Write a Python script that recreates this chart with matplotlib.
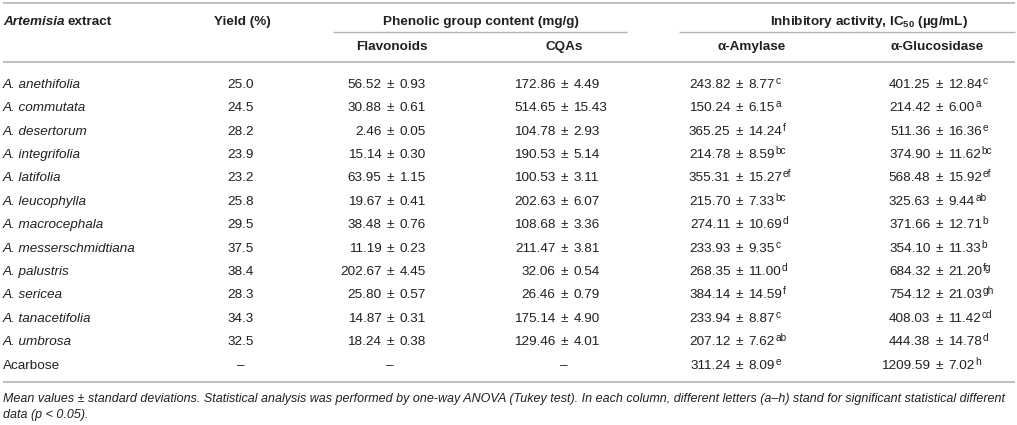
import matplotlib
matplotlib.use("Agg")
import matplotlib.pyplot as plt

# --- table data ---
species = ["A. anethifolia", "A. commutata", "A. desertorum", "A. integrifolia",
           "A. latifolia", "A. leucophylla", "A. macrocephala", "A. messerschmidtiana",
           "A. palustris", "A. sericea", "A. tanacetifolia", "A. umbrosa", "Acarbose"]
yield_pct = [25.0, 24.5, 28.2, 23.9, 23.2, 25.8, 29.5, 37.5, 38.4, 28.3, 34.3, 32.5, None]
flav_mean = [56.52, 30.88, 2.46, 15.14, 63.95, 19.67, 38.48, 11.19, 202.67, 25.80, 14.87, 18.24, None]
flav_sd = [0.93, 0.61, 0.05, 0.30, 1.15, 0.41, 0.76, 0.23, 4.45, 0.57, 0.31, 0.38, None]
cqa_mean = [172.86, 514.65, 104.78, 190.53, 100.53, 202.63, 108.68, 211.47, 32.06, 26.46, 175.14, 129.46, None]
cqa_sd = [4.49, 15.43, 2.93, 5.14, 3.11, 6.07, 3.36, 3.81, 0.54, 0.79, 4.90, 4.01, None]
amy_mean = [243.82, 150.24, 365.25, 214.78, 355.31, 215.70, 274.11, 233.93, 268.35, 384.14, 233.94, 207.12, 311.24]
amy_sd = [8.77, 6.15, 14.24, 8.59, 15.27, 7.33, 10.69, 9.35, 11.00, 14.59, 8.87, 7.62, 8.09]
amy_grp = ["c", "a", "f", "bc", "ef", "bc", "d", "c", "d", "f", "c", "ab", "e"]
glu_mean = [401.25, 214.42, 511.36, 374.90, 568.48, 325.63, 371.66, 354.10, 684.32, 754.12, 408.03, 444.38, 1209.59]
glu_sd = [12.84, 6.00, 16.36, 11.62, 15.92, 9.44, 12.71, 11.33, 21.20, 21.03, 11.42, 14.78, 7.02]
glu_grp = ["c", "a", "e", "bc", "ef", "ab", "b", "b", "fg", "gh", "cd", "d", "h"]

footnote = [
    "Mean values \u00b1 standard deviations. Statistical analysis was performed by one-way ANOVA (Tukey test). "
    "In each column, different letters (a\u2013h) stand for significant statistical different",
    "data (p < 0.05).",
]

FONT = "Liberation Sans"
plt.rcParams["font.family"] = [FONT, "DejaVu Sans"]
plt.rcParams["mathtext.fontset"] = "custom"
plt.rcParams["mathtext.rm"] = FONT
plt.rcParams["mathtext.it"] = FONT + ":italic"
plt.rcParams["mathtext.bf"] = FONT + ":bold"

TXT = "#231f20"
RULE = "#b3b3b3"
FS = 9.7

W, H = 1017, 425
fig = plt.figure(figsize=(W / 100, H / 100), dpi=100)
ax = fig.add_axes([0, 0, 1, 1])
ax.set_xlim(0, W)
ax.set_ylim(H, 0)
ax.axis("off")
rend = fig.canvas.get_renderer()


def txt(x, y, s, ha="left", **kw):
    # y is the visual centre of the line; text is placed on its baseline
    kw.setdefault("fontsize", FS)
    kw.setdefault("color", TXT)
    return ax.text(x, y + 4.7, s, ha=ha, va="baseline", **kw)


def right_edge(t):
    # right end of a text item, in data (pixel) units
    bb = t.get_window_extent(rend)
    return bb.x1


def hrule(x0, x1, y, lw=1.2):
    ax.plot([x0, x1], [y, y], color=RULE, lw=lw, solid_capstyle="butt")


# rules
hrule(3, 1015, 3)
hrule(333, 627, 32, lw=1.0)
hrule(679, 1015, 32, lw=1.0)
hrule(3, 1015, 62)
hrule(3, 1015, 382)

# header
hy1, hy2 = 20, 45
h = txt(3, hy1, "Artemisia", fontweight="bold", fontstyle="italic")
txt(right_edge(h) + 3.5, hy1, "extract", fontweight="bold")
txt(242, hy1, "Yield (%)", ha="center", fontweight="bold")
txt(481, hy1, "Phenolic group content (mg/g)", ha="center", fontweight="bold")
txt(869, hy1, "Inhibitory activity, IC$_{\\mathbf{50}}$ (\u00b5g/mL)", ha="center", fontweight="bold")
txt(392, hy2, "Flavonoids", ha="center", fontweight="bold")
txt(564, hy2, "CQAs", ha="center", fontweight="bold")
txt(752, hy2, "\u03b1-Amylase", ha="center", fontweight="bold")
txt(937, hy2, "\u03b1-Glucosidase", ha="center", fontweight="bold")

# body
row0, dy = 83, 23.42
pm_flav, pm_cqa, pm_amy, pm_glu = 390, 564, 739, 939
off_l, off_r = 8.5, 9.5


def pm_cell(x, y, mean, sd, grp=None):
    if mean is None:
        txt(x, y, "\u2013", ha="center")
        return
    txt(x - off_l, y, f"{mean:.2f}", ha="right")
    txt(x, y, "\u00b1", ha="center")
    t = txt(x + off_r, y, f"{sd:.2f}", ha="left")
    if grp:
        txt(right_edge(t) + 0.5, y - 4.0, grp, fontsize=FS * 0.75)


for i, name in enumerate(species):
    y = row0 + i * dy
    style = "normal" if name == "Acarbose" else "italic"
    txt(3, y, name, fontstyle=style)
    if yield_pct[i] is None:
        txt(241, y, "\u2013", ha="center")
    else:
        txt(241, y, f"{yield_pct[i]:.1f}", ha="center")
    pm_cell(pm_flav, y, flav_mean[i], flav_sd[i])
    pm_cell(pm_cqa, y, cqa_mean[i], cqa_sd[i])
    pm_cell(pm_amy, y, amy_mean[i], amy_sd[i], amy_grp[i])
    pm_cell(pm_glu, y, glu_mean[i], glu_sd[i], glu_grp[i])

# footnote: fit the first line to the table width
fn_fam = ["Liberation Sans Narrow", FONT]
f1 = ax.text(3, 398 + 3.8, footnote[0], fontsize=8.0, color=TXT, fontstyle="italic",
             family=fn_fam, va="baseline")
w = f1.get_window_extent(rend).width
fs_fn = 8.0 * 1009 / w
f1.set_fontsize(fs_fn)
ax.text(3, 414 + 3.8, footnote[1], fontsize=fs_fn, color=TXT, fontstyle="italic",
        family=fn_fam, va="baseline")

fig.savefig("out.png", dpi=100)
